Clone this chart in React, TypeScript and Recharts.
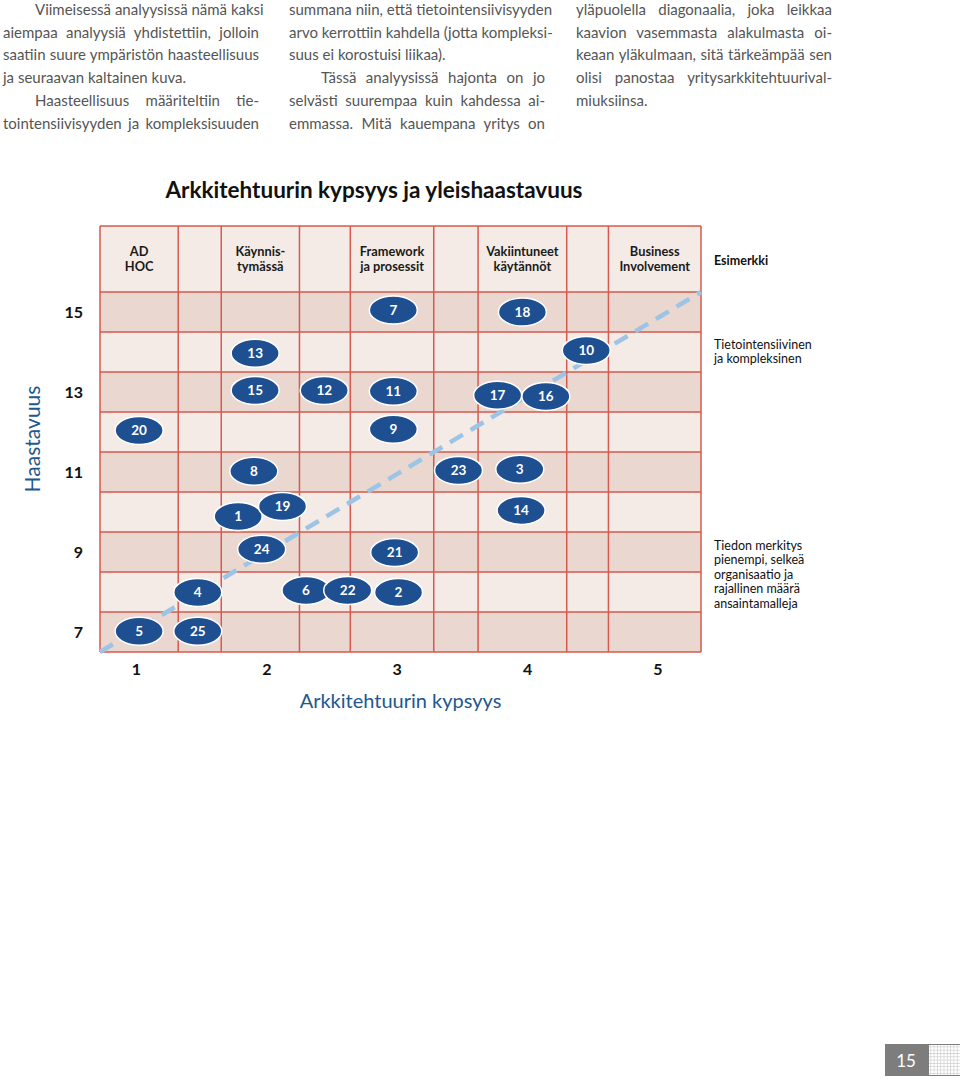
import { ScatterChart, Scatter, XAxis, YAxis, ReferenceArea, ReferenceLine } from "recharts";

// tick labels
const maturityTicks = [1, 2, 3, 4, 5];
const challengeTicks = [7, 9, 11, 13, 15];

// grid geometry in data units
const columnEdges = [0.72, 1.32, 1.65, 2.25, 2.64, 3.28, 3.62, 4.3, 4.62, 5.33];
const rowCenters = [7, 8, 9, 10, 11, 12, 13, 14, 15];
const headerTop = 17.15;
const headerLabels = [
  ["AD", "HOC"],
  null,
  ["Käynnis-", "tymässä"],
  null,
  ["Framework", "ja prosessit"],
  null,
  ["Vakiintuneet", "käytännöt"],
  null,
  ["Business", "Involvement"]
];

// companies (drawn in this order, later ones on top)
const companyIds = [5, 25, 4, 24, 1, 19, 8, 20, 15, 13, 12, 6, 22, 2, 21, 7, 11, 9, 23, 3, 14, 18, 17, 16, 10];
const companyMaturity = [1.02, 1.47, 1.47, 1.96, 1.78, 2.12, 1.9, 1.02, 1.91, 1.91, 2.44, 2.3, 2.62, 3.01, 2.98, 2.97, 2.97, 2.97, 3.47, 3.94, 3.95, 3.96, 3.77, 4.14, 4.45];
const companyChallenge = [7.02, 7.02, 7.99, 9.07, 9.89, 10.14, 11.02, 12.04, 13.04, 13.97, 13.04, 8.04, 8.04, 7.99, 8.99, 15.05, 13.02, 12.07, 11.04, 11.07, 10.04, 15.0, 12.92, 12.89, 14.04];

const diagonalStart = { x: 0.72, y: 6.5 };
const diagonalEnd = { x: 5.33, y: 15.5 };

const paragraphColumns = [
  [
    ["Viimeisessä analyysissä nämä kaksi", 1, 1],
    ["aiempaa analyysiä yhdistettiin, jolloin", 0, 1],
    ["saatiin suure ympäristön haasteellisuus", 0, 1],
    ["ja seuraavan kaltainen kuva.", 0, 0],
    ["Haasteellisuus määriteltiin tie-", 1, 1],
    ["tointensiivisyyden ja kompleksisuuden", 0, 1]
  ],
  [
    ["summana niin, että tietointensiivisyyden", 0, 1],
    ["arvo kerrottiin kahdella (jotta kompleksi-", 0, 1],
    ["suus ei korostuisi liikaa).", 0, 0],
    ["Tässä analyysissä hajonta on jo", 1, 1],
    ["selvästi suurempaa kuin kahdessa ai-", 0, 1],
    ["emmassa. Mitä kauempana yritys on", 0, 1]
  ],
  [
    ["yläpuolella diagonaalia, joka leikkaa", 0, 1],
    ["kaavion vasemmasta alakulmasta oi-", 0, 1],
    ["keaan yläkulmaan, sitä tärkeämpää sen", 0, 1],
    ["olisi panostaa yritysarkkitehtuurival-", 0, 1],
    ["miuksiinsa.", 0, 0]
  ]
] as [string, number, number][][];

const exampleTop = ["Tietointensiivinen", "ja kompleksinen"];
const exampleBottom = ["Tiedon merkitys", "pienempi, selkeä", "organisaatio ja", "rajallinen määrä", "ansaintamalleja"];

const points = companyIds.map((id, i) => ({ id, x: companyMaturity[i], y: companyChallenge[i] }));

const FONT = "Lato, 'Open Sans', sans-serif";
const GRID = "#d65a4f";
const BLUE = "#22578f";

function Bubble(props: any) {
  const { cx, cy, payload } = props;
  return (
    <g>
      <ellipse cx={cx} cy={cy} rx={24} ry={14} fill="#1d4f91" stroke="#fff" strokeWidth={1.5} />
      <text x={cx} y={cy} dy="0.36em" textAnchor="middle" fill="#fff" fontSize={13.5} fontWeight={700}>
        {payload.id}
      </text>
    </g>
  );
}

function HeaderLabel(props: any) {
  const { viewBox, lines } = props;
  if (!viewBox || !lines) return null;
  const cx = viewBox.x + viewBox.width / 2;
  const cy = viewBox.y + viewBox.height / 2;
  return (
    <text textAnchor="middle" fontSize={12.8} fontWeight={700} fill="#1a1a1a">
      <tspan x={cx} y={cy - 7.5} dy="0.36em">{lines[0]}</tspan>
      <tspan x={cx} y={cy + 7.5} dy="0.36em">{lines[1]}</tspan>
    </text>
  );
}

export default function App() {
  return (
    <div style={{ position: "relative", width: 960, height: 1083, background: "#fff", fontFamily: FONT, overflow: "hidden" }}>
      <style>{`body{margin:0}`}</style>

      {paragraphColumns.map((col, c) => (
        <div key={c} style={{ position: "absolute", left: [3, 289, 576][c], top: -2, width: 256, color: "#555", fontSize: 15, lineHeight: "22.7px" }}>
          {col.map(([t, indent, justify], i) => (
            <div
              key={i}
              style={{
                whiteSpace: "nowrap",
                paddingLeft: indent ? 32 : 0,
                textAlign: justify ? "justify" : "left",
                textAlignLast: justify ? "justify" : "left"
              }}
            >
              {t}
            </div>
          ))}
        </div>
      ))}

      <div style={{ position: "absolute", left: 0, top: 177, width: 748, textAlign: "center", fontSize: 22.5, fontWeight: 700, lineHeight: "26px", color: "#111" }}>
        Arkkitehtuurin kypsyys ja yleishaastavuus
      </div>

      <div style={{ position: "absolute", left: 0, top: 0 }}>
        <ScatterChart width={960} height={720} margin={{ top: 226, right: 259, left: 20, bottom: 8 }} style={{ fontFamily: FONT }}>
          <XAxis
            type="number"
            dataKey="x"
            domain={[columnEdges[0], columnEdges[columnEdges.length - 1]]}
            ticks={maturityTicks}
            allowDataOverflow
            height={60}
            tickLine={false}
            axisLine={false}
            tickSize={0}
            tickMargin={12}
            tick={{ fontSize: 16, fontWeight: 700, fill: "#111" }}
            label={{ value: "Arkkitehtuurin kypsyys", position: "insideBottom", offset: 4, fill: BLUE, fontSize: 20 }}
          />
          <YAxis
            type="number"
            dataKey="y"
            domain={[rowCenters[0] - 0.5, headerTop]}
            ticks={challengeTicks}
            allowDataOverflow
            width={80}
            tickLine={false}
            axisLine={false}
            tickSize={0}
            tickMargin={17}
            tick={{ fontSize: 16, fontWeight: 700, fill: "#111" }}
            label={{ value: "Haastavuus", angle: -90, position: "insideLeft", offset: 13, fill: BLUE, fontSize: 21, style: { textAnchor: "middle" } }}
          />

          {rowCenters.map((r) => (
            <ReferenceArea
              key={`row-${r}`}
              x1={columnEdges[0]}
              x2={columnEdges[columnEdges.length - 1]}
              y1={r - 0.5}
              y2={r + 0.5}
              fill={r % 2 === 1 ? "#e9d7d0" : "#f4eae6"}
              fillOpacity={1}
              stroke="none"
              ifOverflow="visible"
            />
          ))}
          {headerLabels.map((lines, i) => (
            <ReferenceArea
              key={`head-${i}`}
              x1={columnEdges[i]}
              x2={columnEdges[i + 1]}
              y1={rowCenters[rowCenters.length - 1] + 0.5}
              y2={headerTop}
              fill="#f4ebe7"
              fillOpacity={1}
              stroke="none"
              ifOverflow="visible"
              label={lines ? <HeaderLabel lines={lines} /> : undefined}
            />
          ))}

          {rowCenters.map((r) => (
            <ReferenceLine key={`h-${r}`} y={r - 0.5} stroke={GRID} strokeWidth={1.5} ifOverflow="visible" />
          ))}
          <ReferenceLine y={rowCenters[rowCenters.length - 1] + 0.5} stroke={GRID} strokeWidth={1.5} ifOverflow="visible" />
          <ReferenceLine y={headerTop} stroke={GRID} strokeWidth={1.5} ifOverflow="visible" />
          {columnEdges.map((c) => (
            <ReferenceLine key={`v-${c}`} x={c} stroke={GRID} strokeWidth={1.5} ifOverflow="visible" />
          ))}

          <ReferenceLine
            segment={[diagonalStart, diagonalEnd]}
            stroke="#9cc4e6"
            strokeWidth={4.5}
            strokeDasharray="15 9"
            ifOverflow="visible"
          />

          <Scatter data={points} shape={<Bubble />} isAnimationActive={false} />
        </ScatterChart>
      </div>

      <div style={{ position: "absolute", left: 714, top: 254, fontSize: 12.5, fontWeight: 700, lineHeight: "14.5px", color: "#111" }}>
        Esimerkki
      </div>
      <div style={{ position: "absolute", left: 714, top: 337.5, fontSize: 12.5, lineHeight: "14.5px", color: "#111" }}>
        {exampleTop.map((t) => (
          <div key={t}>{t}</div>
        ))}
      </div>
      <div style={{ position: "absolute", left: 714, top: 538.5, fontSize: 12.5, lineHeight: "14.5px", color: "#111" }}>
        {exampleBottom.map((t) => (
          <div key={t}>{t}</div>
        ))}
      </div>

      <svg style={{ position: "absolute", left: 885, top: 1044 }} width={75} height={32}>
        <defs>
          <pattern id="pagePx" width={3.3} height={3.3} patternUnits="userSpaceOnUse">
            <rect width={3.3} height={3.3} fill="#c8c8c8" />
            <rect width={2.7} height={2.7} fill="#fff" />
          </pattern>
        </defs>
        <rect width={75} height={32} fill="#7d7d7d" />
        <rect x={44} y={1} width={31} height={30} fill="url(#pagePx)" />
        <text x={21} y={17} dy="0.36em" textAnchor="middle" fill="#fff" fontSize={17} fontFamily={FONT}>15</text>
      </svg>
    </div>
  );
}
